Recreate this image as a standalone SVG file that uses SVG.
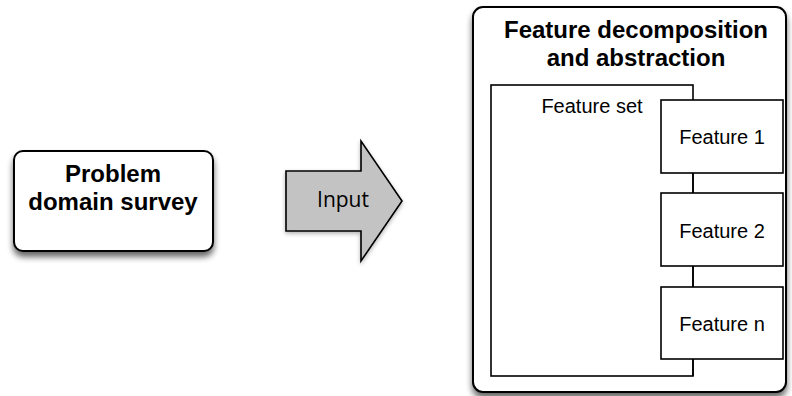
<svg xmlns="http://www.w3.org/2000/svg" width="792" height="396" viewBox="0 0 792 396">
<defs>
<filter id="sh" x="-20%" y="-20%" width="140%" height="150%">
<feGaussianBlur in="SourceAlpha" stdDeviation="3"/>
<feOffset dx="0" dy="5" result="b"/>
<feComponentTransfer><feFuncA type="linear" slope="0.6"/></feComponentTransfer>
<feMerge><feMergeNode/><feMergeNode in="SourceGraphic"/></feMerge>
</filter>
<filter id="sh2" x="-20%" y="-20%" width="140%" height="140%">
<feGaussianBlur in="SourceAlpha" stdDeviation="2"/>
<feOffset dx="0" dy="2" result="b"/>
<feComponentTransfer><feFuncA type="linear" slope="0.3"/></feComponentTransfer>
<feMerge><feMergeNode/><feMergeNode in="SourceGraphic"/></feMerge>
</filter>
</defs>
<style>
.rbox{fill:#fff;stroke:#000;stroke-width:2}
.box{fill:#fff;stroke:#000;stroke-width:1.6}
.bold{font-family:"Liberation Sans",Arial,sans-serif;font-weight:bold;font-size:24px;fill:#000;text-anchor:middle}
.reg{font-family:"Liberation Sans",Arial,sans-serif;font-size:20px;fill:#000;text-anchor:middle}
.conn{stroke:#000;stroke-width:1.6;fill:none}
</style>
<rect width="792" height="396" fill="#fff"/>
<g id="problem">
<rect class="rbox" x="14" y="151" width="199" height="100" rx="9" filter="url(#sh)"/>
<text class="bold" x="113" y="182">Problem</text>
<text class="bold" x="113" y="210">domain survey</text>
</g>
<g id="input">
<polygon points="286,171 361,171 361,141 402,201 361,261 361,231 286,231" fill="#c3c3c3" stroke="#000" stroke-width="1.6" stroke-linejoin="miter" filter="url(#sh2)"/>
<text x="343" y="207" font-family="'Open Sans','Liberation Sans',sans-serif" font-size="21" fill="#000" text-anchor="middle">Input</text>
</g>
<g id="feature-decomposition">
<rect class="rbox" x="473" y="7" width="313" height="385" rx="10" filter="url(#sh)"/>
<text class="bold" x="636" y="38">Feature decomposition</text>
<text class="bold" x="636" y="66">and abstraction</text>
</g>
<g id="feature-set">
<rect class="box" x="491" y="85" width="202" height="291"/>
<text class="reg" x="592" y="113">Feature set</text>
</g>
<g id="connectors">
<line class="conn" x1="693" y1="173" x2="693" y2="193"/>
<line class="conn" x1="693" y1="266" x2="693" y2="287"/>
<line class="conn" x1="693" y1="359" x2="693" y2="376"/>
</g>
<g id="feature-1">
<rect class="box" x="661" y="100" width="122" height="73"/>
<text class="reg" x="722" y="144">Feature 1</text>
</g>
<g id="feature-2">
<rect class="box" x="661" y="193" width="122" height="73"/>
<text class="reg" x="722" y="238">Feature 2</text>
</g>
<g id="feature-n">
<rect class="box" x="661" y="287" width="122" height="72"/>
<text class="reg" x="722" y="331">Feature n</text>
</g>
</svg>
